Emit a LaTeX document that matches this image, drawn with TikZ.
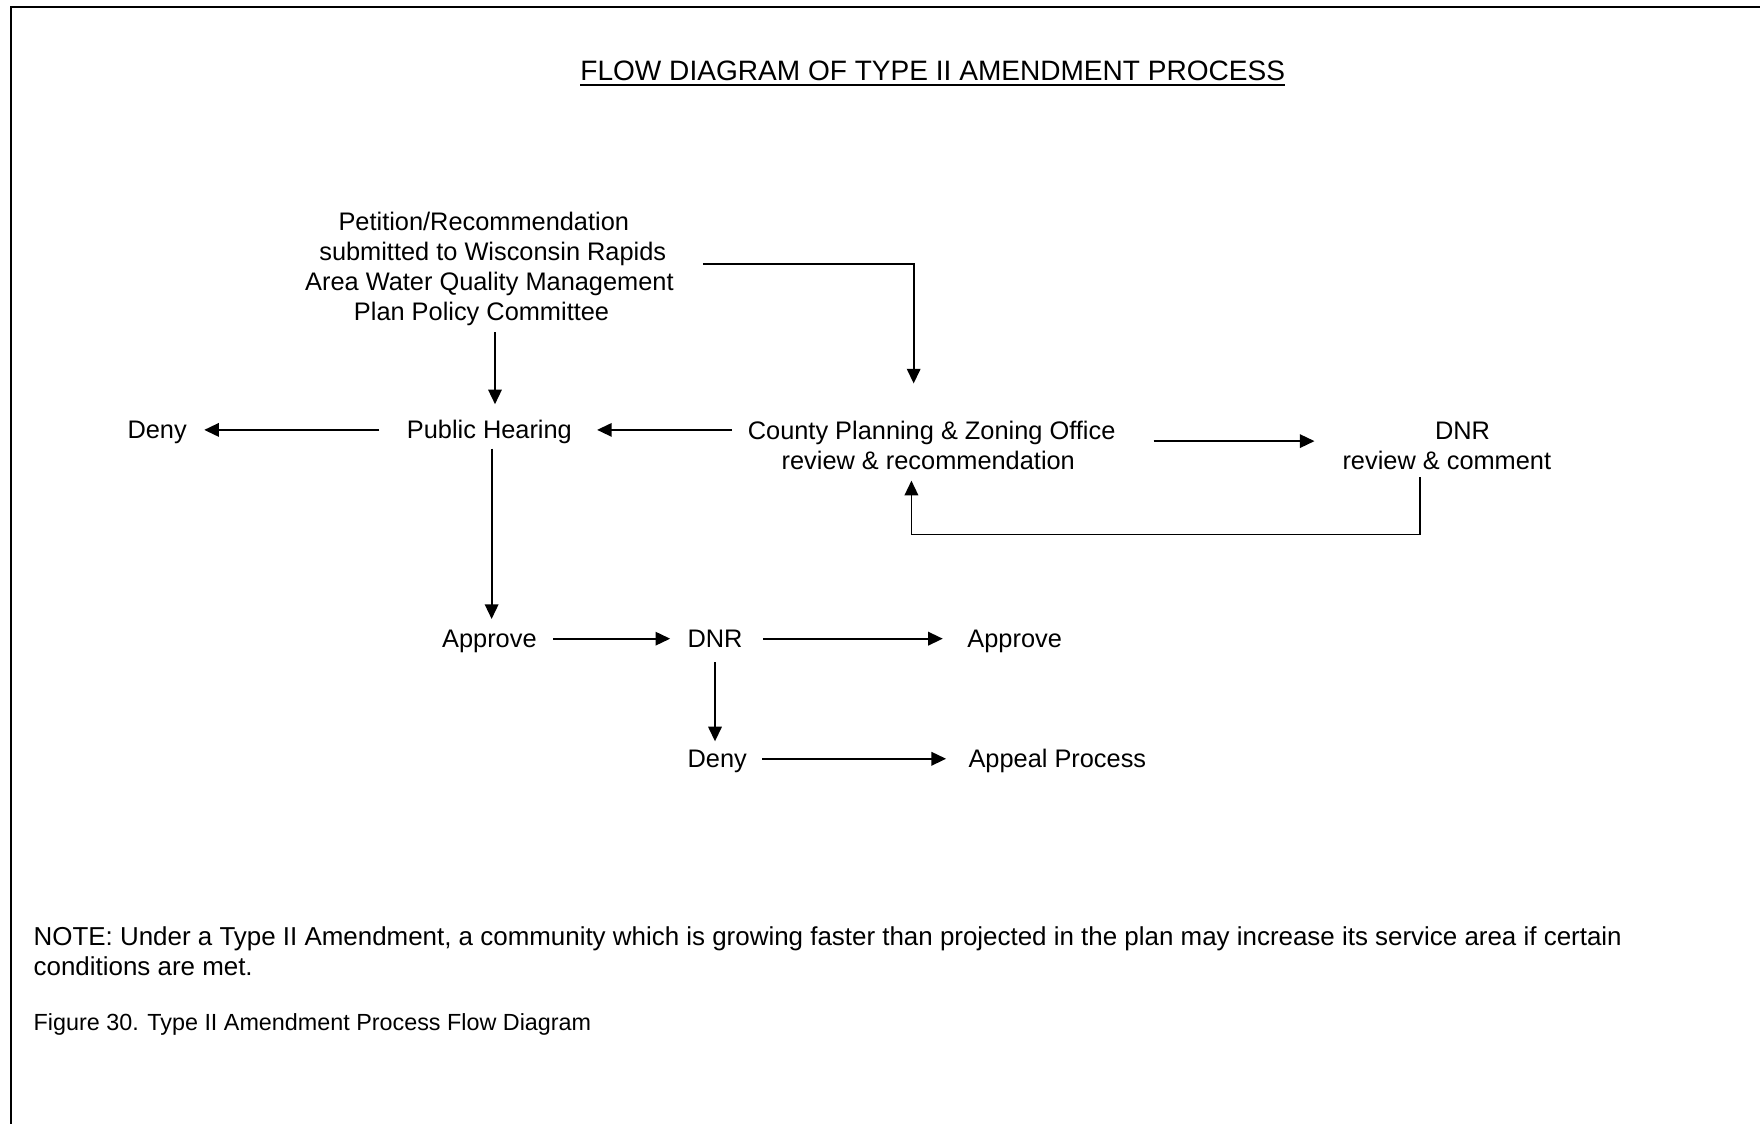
\documentclass[tikz,border=0pt]{standalone}
\usepackage{fontspec}
\setmainfont{Liberation Sans}
\usetikzlibrary{arrows.meta}
\begin{document}
\begin{tikzpicture}[x=0.5pt,y=-0.5pt,
  lbl/.style={inner sep=0pt, outer sep=0pt, font=\fontsize{11.3}{13.25}\selectfont},
  arr/.style={-{Triangle[length=6.5pt,width=6pt]}, line width=0.8pt},
  frame/.style={line width=0.9pt}
]
\useasboundingbox (0,0) rectangle (1568,1000.5);
\draw[frame] (10,1004) -- (10,6) -- (1572,6);
\node[lbl, anchor=base, font=\fontsize{12.5}{15}\selectfont] (title) at (831,72) {FLOW DIAGRAM OF TYPE II AMENDMENT PROCESS};
\draw[line width=0.7pt] ([yshift=-1.8pt]title.base west) -- ([yshift=-1.8pt]title.base east);
\node[lbl, align=center] (pet) at (436,239.5) {Petition/Recommendation\hspace*{5pt}\\\hspace*{3pt}submitted to Wisconsin Rapids\\Area Water Quality Management\\Plan Policy Committee\hspace*{7pt}};
\node[lbl, anchor=base] (deny1) at (140,391) {Deny};
\node[lbl, anchor=base] (ph) at (436,391) {Public Hearing};
\node[lbl, anchor=base, align=center] (county) at (830,418) {County Planning \& Zoning Office\\review \& recommendation\hspace*{3pt}};
\node[lbl, anchor=base, align=center] (dnr1) at (1289,418) {\hspace*{14pt}DNR\\review \& comment};
\node[lbl, anchor=base] (appr1) at (436,577) {Approve};
\node[lbl, anchor=base] (dnr2) at (637,577) {DNR};
\node[lbl, anchor=base] (appr2) at (904,577) {Approve};
\node[lbl, anchor=base] (deny2) at (639,684) {Deny};
\node[lbl, anchor=base] (appeal) at (942,684) {Appeal Process};
\node[lbl, anchor=base west, align=left, font=\fontsize{11.55}{13.25}\selectfont] (note) at (30,869) {NOTE: Under a Type II Amendment, a community which is growing faster than projected in the plan may increase its service area if certain\\conditions are met.};
\node[lbl, anchor=base west, font=\fontsize{10.4}{12}\selectfont] (cap) at (30,918) {Figure 30. Type II Amendment Process Flow Diagram};
% connectors
\draw[arr] ([xshift=2.5pt,yshift=-3pt]pet.south) -- ([xshift=2.5pt,yshift=7.25pt]ph.north);
\draw[arr] ([xshift=13pt,yshift=2.25pt]pet.east) -| ([xshift=-8pt,yshift=16.75pt]county.north);
\draw[arr] ([shift={(-12.25pt,4pt)}]ph.base west) -- ([shift={(7.8pt,4pt)}]deny1.base east);
\draw[arr] ([shift={(-7pt,17.5pt)}]county.base west) -- ([shift={(11.25pt,4pt)}]ph.base east);
\draw[arr] ([shift={(17pt,12.5pt)}]county.base east) -- ([shift={(-12.5pt,12.5pt)}]dnr1.base west);
\draw[arr] ([xshift=-12pt,yshift=-3.5pt]dnr1.south) -- ++(0,51) -| ([xshift=-9pt,yshift=-5pt]county.south);
\draw[arr] ([xshift=1pt,yshift=-2pt]ph.south) -- ([xshift=1pt,yshift=5pt]appr1.north);
\draw[arr] ([shift={(7.5pt,4pt)}]appr1.base east) -- ([shift={(-7.75pt,4pt)}]dnr2.base west);
\draw[arr] ([shift={(9.25pt,4pt)}]dnr2.base east) -- ([shift={(-11pt,4pt)}]appr2.base west);
\draw[arr] ([yshift=-6.5pt]dnr2.south) -- ([xshift=-1pt,yshift=4pt]deny2.north);
\draw[arr] ([shift={(6.8pt,4pt)}]deny2.base east) -- ([shift={(-10pt,4pt)}]appeal.base west);
\end{tikzpicture}
\end{document}
